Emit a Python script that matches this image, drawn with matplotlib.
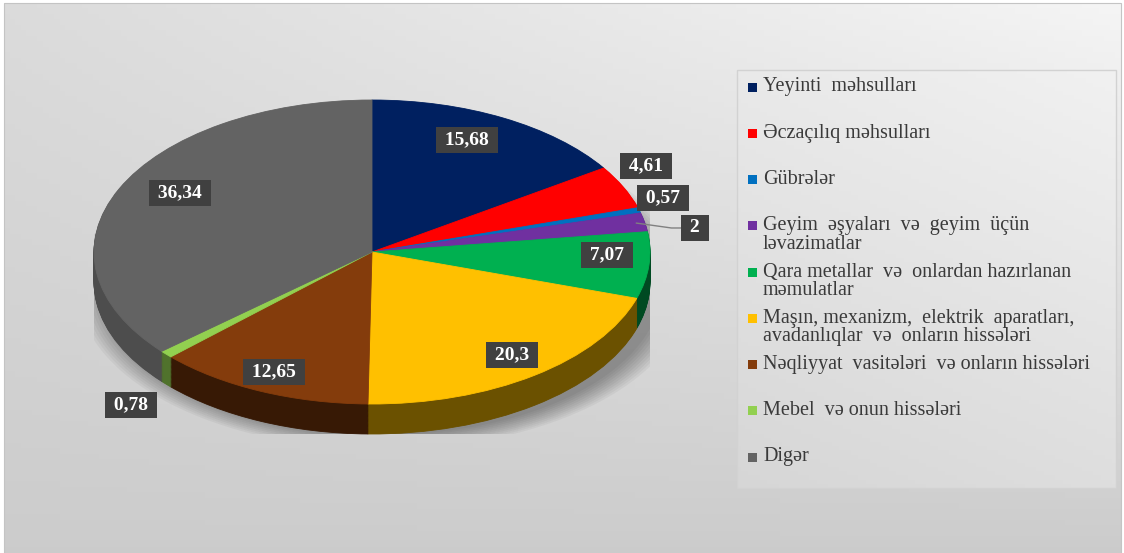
import numpy as np
import matplotlib.pyplot as plt
from matplotlib.patches import Rectangle, Ellipse
from matplotlib.colors import to_rgb

# Data
categories = ['Yeyinti  məhsulları',
              'Əczaçılıq məhsulları',
              'Gübrələr',
              'Geyim  əşyaları  və  geyim  üçün\nləvazimatlar',
              'Qara metallar  və  onlardan hazırlanan\nməmulatlar',
              'Maşın, mexanizm,  elektrik  aparatları,\navadanlıqlar  və  onların hissələri',
              'Nəqliyyat  vasitələri  və onların hissələri',
              'Mebel  və onun hissələri',
              'Digər']
values = [15.68, 4.61, 0.57, 2, 7.07, 20.3, 12.65, 0.78, 36.34]
colors = ['#002060', '#FF0000', '#0070C0', '#7030A0', '#00B050',
          '#FFC000', '#843C0C', '#92D050', '#636363']
side_shade = [0.42, 0.42, 0.42, 0.42, 0.42, 0.42, 0.42, 0.55, 0.78]

# label box positions (pie coords, top face is unit circle squashed)
label_pos = [(0.342, 0.737), (0.986, 0.566), (1.047, 0.355), (1.162, 0.158),
             (0.845, -0.020), (0.504, -0.678), (-0.353, -0.789),
             (-0.867, -1.007), (-0.691, 0.388)]

W, H = 1124, 553
fig = plt.figure(figsize=(W / 100, H / 100), dpi=100)
fig.patch.set_facecolor('white')

# background axes in pixel coords
bg = fig.add_axes([0, 0, 1, 1])
bg.set_xlim(0, W)
bg.set_ylim(H, 0)
bg.axis('off')

xx, yy = np.meshgrid(np.linspace(0, 1, 200), np.linspace(0, 1, 100))
grad = 0.96 - 0.16 * yy - 0.10 * (1 - xx) * (1 - yy)
bg.imshow(np.dstack([grad] * 3), extent=(4, 1121, 553, 3), aspect='auto', zorder=0)
bg.add_patch(Rectangle((4, 3), 1117, 551, fill=False, ec='#c4c4c4', lw=0.8, zorder=1))

# legend box
lx0, lx1, ly0, ly1 = 737, 1116, 70, 488
xx2, yy2 = np.meshgrid(np.linspace(0, 1, 100), np.linspace(0, 1, 100))
lgrad = 0.945 - 0.075 * yy2 - 0.03 * (1 - xx2)
bg.imshow(np.dstack([lgrad] * 3), extent=(lx0, lx1, ly1, ly0), aspect='auto', zorder=1)
bg.add_patch(Rectangle((lx0, ly0), lx1 - lx0, ly1 - ly0, fill=False, ec='#d2d2d2', lw=1, zorder=2))

for i, (lab, col) in enumerate(zip(categories, colors)):
    y = 87 + 46.25 * i
    bg.add_patch(Rectangle((748, y - 4.5), 9, 9, fc=col, ec='none', zorder=3))
    for j, line in enumerate(lab.split('\n')):
        bg.text(763, y + 18.5 * j, line, fontsize=14.5, family='Liberation Serif',
                color='#3a3a3a', va='center', ha='left', zorder=3)

# pie axes: unit circle -> ellipse rx=278, ry=152 centred at (372, 252) px
cx, cy, rx, ry = 372, 252, 278, 152
depth = 30 / ry
ax = fig.add_axes([(cx - rx) / W, (H - (cy + ry + 30)) / H,
                   2 * rx / W, (2 * ry + 30) / H])
ax.patch.set_alpha(0)

# soft shadow
for s in np.linspace(1.0, 1.1, 10):
    ax.add_patch(Ellipse((0.04, -depth - 0.035), 2 * s, 2 * s * 0.97,
                         fc='black', ec='none', alpha=0.04, zorder=0.5))

side_colors = [tuple(c * f for c in to_rgb(col)) for col, f in zip(colors, side_shade)]
n_layers = 36
for k in range(n_layers + 1):
    off = -depth * (1 - k / n_layers)
    cols = side_colors if k < n_layers else colors
    wedges, _ = ax.pie(values, colors=cols, startangle=90, counterclock=False,
                       center=(0, off), radius=1)
    for w in wedges:
        w.set_edgecolor(w.get_facecolor())
        w.set_linewidth(0.6)
        w.set_zorder(1 + k * 0.01)

ax.set_aspect('auto')
ax.set_xlim(-1, 1)
ax.set_ylim(-1 - depth, 1)
ax.axis('off')

# leader line for the small purple slice
cum = np.cumsum([0] + values)
mid = np.deg2rad(360 * (cum[3] + values[3] / 2) / cum[-1])
lx, ly = label_pos[3]
ax.plot([0.97 * np.sin(mid), lx - 0.085, lx - 0.045], [0.97 * np.cos(mid), ly, ly],
        color='#808080', lw=1, zorder=4, clip_on=False)

for v, (px, py) in zip(values, label_pos):
    txt = f'{v:g}'.replace('.', ',')
    ax.text(px, py, ' ' + txt + ' ', ha='center', va='center', color='white',
            fontsize=14, fontweight='bold', family='Liberation Serif', zorder=5,
            bbox=dict(boxstyle='square,pad=0.22', fc='#404040', ec='none'),
            clip_on=False)

fig.savefig('out.png', dpi=100)
